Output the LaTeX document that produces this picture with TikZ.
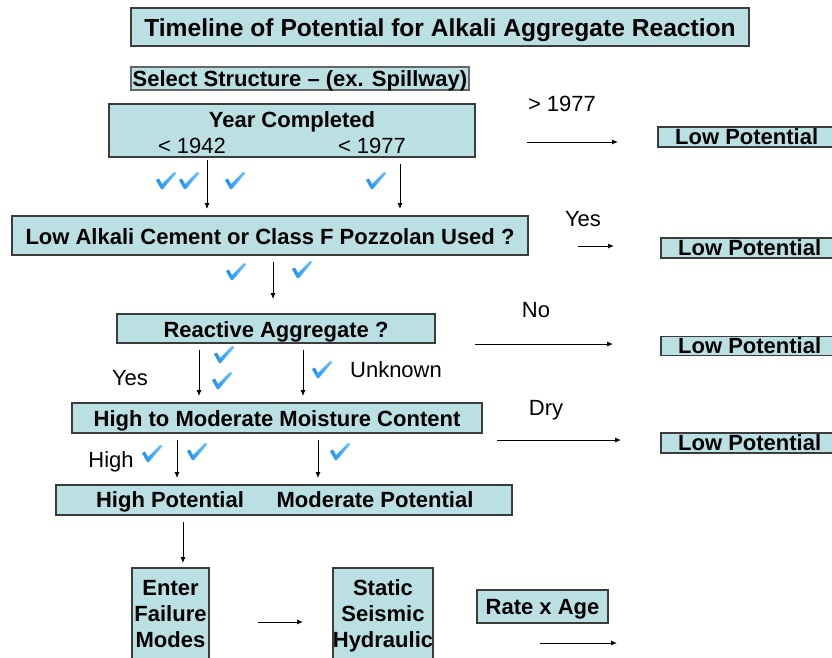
\documentclass[tikz,border=0pt]{standalone}
\usepackage{fontspec}
\setmainfont{Liberation Sans}
\usetikzlibrary{arrows.meta}
\definecolor{boxfill}{RGB}{187,224,228}
\definecolor{boxline}{RGB}{60,60,60}
\definecolor{tickblue}{RGB}{25,145,245}
\definecolor{ticklight}{RGB}{110,195,255}
\tikzset{
  box/.style={draw=boxline, line width=1.4pt, fill=boxfill, inner sep=0pt, outer sep=0pt},
  bold/.style={font=\bfseries\fontsize{22}{26}\selectfont, text height=15.7pt, text depth=0pt, inner sep=0pt},
  plain/.style={font=\fontsize{22}{26}\selectfont, text height=15.7pt, text depth=0pt, inner sep=0pt},
  arr/.style={line width=0.9pt, -{Latex[length=6pt,width=5pt]}},
  tick/.pic={
    \shade[left color=tickblue, right color=ticklight]
      (-10,-1) -- (-7,-2.5) -- (-4,3) -- (8,-9) -- (10.5,-8) -- (-3,8) -- (-5,8) -- cycle;
  }
}
\begin{document}
\begin{tikzpicture}[x=1pt, y=-1pt]
\clip (0,0) rectangle (832,657);
\fill[white] (0,0) rectangle (832,657);

% title and structure selection
\node[box, minimum width=618, minimum height=38] (title) at (440,27) {};
\node[bold, font=\bfseries\fontsize{24.6}{28}\selectfont, text height=17.6pt] (titletext) at (440,27.5) {Timeline of Potential for Alkali Aggregate Reaction};
\node[box, line width=1.8pt, draw=black!60, minimum width=338, minimum height=23] (select) at (300,78.5) {};
\node[bold] (selecttext) at (300,78.5) {Select Structure – (ex. Spillway)};

% year completed
\node[box, minimum width=366, minimum height=53] (year) at (292,130.5) {};
\node[bold] (yeartext) at (292,120) {Year Completed};
\node[plain] (y1942) at (192,146) {< 1942};
\node[plain] (y1977) at (372,146) {< 1977};
\node[plain] (gt1977) at (562,104) {> 1977};

% low potential outcomes
\node[box, anchor=west, minimum width=240, minimum height=20] (lp1) at (658,137) {};
\node[bold, anchor=west] (lp1text) at (675,137) {Low Potential};
\node[box, anchor=west, minimum width=240, minimum height=20] (lp2) at (661,248) {};
\node[bold, anchor=west] (lp2text) at (678,248) {Low Potential};
\node[box, anchor=west, minimum width=240, minimum height=19] (lp3) at (661,346) {};
\node[bold, anchor=west] (lp3text) at (678,346) {Low Potential};
\node[box, anchor=west, minimum width=240, minimum height=20] (lp4) at (661,443) {};
\node[bold, anchor=west] (lp4text) at (678,443) {Low Potential};

% cement question
\node[box, minimum width=516, minimum height=39] (cement) at (270,235.5) {};
\node[bold] (cementtext) at (270,237) {Low Alkali Cement or Class F Pozzolan Used ?};
\node[plain] (yes1) at (583,219) {Yes};

% reactive aggregate
\node[box, minimum width=318, minimum height=29] (react) at (276,328.5) {};
\node[bold] (reacttext) at (276,330) {Reactive Aggregate ?};
\node[plain] (no) at (536,310) {No};
\node[plain] (yes2) at (130,378) {Yes};
\node[plain] (unknown) at (396,370) {Unknown};

% moisture
\node[box, minimum width=410, minimum height=30] (moist) at (277,418) {};
\node[bold] (moisttext) at (277,419) {High to Moderate Moisture Content};
\node[plain] (dry) at (546,408) {Dry};
\node[plain] (high) at (111,460) {High};

% potential result
\node[box, minimum width=456, minimum height=30] (pot) at (284,500) {};
\node[bold] (hightext) at (170,500) {High Potential};
\node[bold] (modtext) at (375,500) {Moderate Potential};

% failure modes row
\node[box, minimum width=77, minimum height=132] (enter) at (170.5,634) {};
\node[bold] (enter1) at (170.5,588) {Enter};
\node[bold] (enter2) at (170.5,614) {Failure};
\node[bold] (enter3) at (170.5,640) {Modes};
\node[box, minimum width=100, minimum height=132] (static) at (383,634) {};
\node[bold] (static1) at (383,588) {Static};
\node[bold] (static2) at (383,614) {Seismic};
\node[bold] (static3) at (383,640) {Hydraulic};
\node[box, minimum width=131, minimum height=33] (rate) at (542.5,606.5) {};
\node[bold] (ratetext) at (542.5,606.5) {Rate x Age};

% connector end points
\coordinate (a1s) at (207,160);  \coordinate (a1e) at (207,209);
\coordinate (a2s) at (400,164);  \coordinate (a2e) at (400,209);
\coordinate (a3s) at (527,142);  \coordinate (a3e) at (618,142);
\coordinate (a4s) at (578,246);  \coordinate (a4e) at (614,246);
\coordinate (a5s) at (273,262);  \coordinate (a5e) at (273,299);
\coordinate (a6s) at (475,344);  \coordinate (a6e) at (613,344);
\coordinate (a7s) at (199,350);  \coordinate (a7e) at (199,396);
\coordinate (a8s) at (303,350);  \coordinate (a8e) at (303,396);
\coordinate (a9s) at (497,440);  \coordinate (a9e) at (621,440);
\coordinate (a10s) at (177,440); \coordinate (a10e) at (177,478);
\coordinate (a11s) at (318,440); \coordinate (a11e) at (318,478);
\coordinate (a12s) at (183,522); \coordinate (a12e) at (183,563);
\coordinate (a13s) at (258,622); \coordinate (a13e) at (303,622);
\coordinate (a14s) at (540,643); \coordinate (a14e) at (617,643);

\foreach \i in {1,...,14} \draw[arr] (a\i s) -- (a\i e);

% check marks
\foreach \p in {(166,181),(189,181),(235,181),(376,181),
                (236,272),(302,270),
                (224,355),(222,381),(322,370),
                (152,454),(197,452),(340,452)}
  \pic at \p {tick};
\end{tikzpicture}
\end{document}
